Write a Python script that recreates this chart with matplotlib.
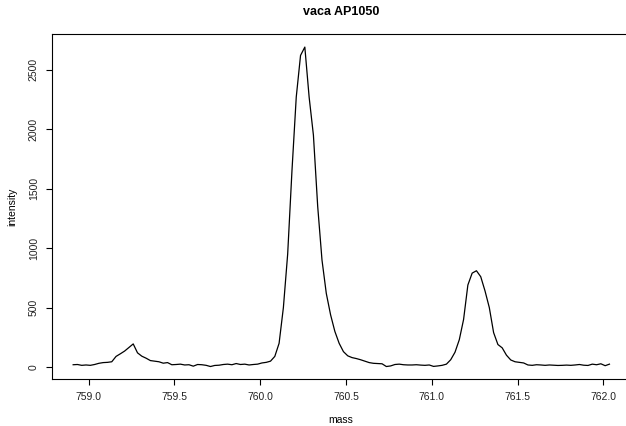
import matplotlib
matplotlib.use("Agg")
import matplotlib.pyplot as plt

plt.rcParams["font.family"] = ["Liberation Sans", "DejaVu Sans"]

# spectrum around m/z 760, one reading every 0.025 units
mass = [
    758.910, 758.935, 758.960, 758.985, 759.010, 759.035, 759.060, 759.085, 759.110, 759.135,
    759.160, 759.185, 759.210, 759.235, 759.260, 759.285, 759.310, 759.335, 759.360, 759.385,
    759.410, 759.435, 759.460, 759.485, 759.510, 759.535, 759.560, 759.585, 759.610, 759.635,
    759.660, 759.685, 759.710, 759.735, 759.760, 759.785, 759.810, 759.835, 759.860, 759.885,
    759.910, 759.935, 759.960, 759.985, 760.010, 760.035, 760.060, 760.085, 760.110, 760.135,
    760.160, 760.185, 760.210, 760.235, 760.260, 760.285, 760.310, 760.335, 760.360, 760.385,
    760.410, 760.435, 760.460, 760.485, 760.510, 760.535, 760.560, 760.585, 760.610, 760.635,
    760.660, 760.685, 760.710, 760.735, 760.760, 760.785, 760.810, 760.835, 760.860, 760.885,
    760.910, 760.935, 760.960, 760.985, 761.010, 761.035, 761.060, 761.085, 761.110, 761.135,
    761.160, 761.185, 761.210, 761.235, 761.260, 761.285, 761.310, 761.335, 761.360, 761.385,
    761.410, 761.435, 761.460, 761.485, 761.510, 761.535, 761.560, 761.585, 761.610, 761.635,
    761.660, 761.685, 761.710, 761.735, 761.760, 761.785, 761.810, 761.835, 761.860, 761.885,
    761.910, 761.935, 761.960, 761.985, 762.010, 762.035,
]
intensity = [
    20, 22, 15, 18, 15, 22, 32, 38, 40, 45,
    90, 112, 135, 165, 195, 120, 92, 75, 55, 50,
    45, 33, 38, 20, 22, 25, 18, 20, 8, 22,
    20, 15, 5, 14, 16, 22, 25, 20, 30, 22,
    25, 18, 22, 25, 35, 40, 50, 90, 200, 500,
    950, 1650, 2270, 2620, 2690, 2270, 1950, 1350, 900, 620,
    440, 300, 200, 130, 95, 80, 72, 62, 50, 38,
    32, 30, 28, 5, 10, 22, 25, 20, 18, 18,
    20, 17, 15, 18, 6, 10, 15, 25, 62, 125,
    230, 400, 690, 790, 810, 760, 640, 500, 290, 190,
    162, 100, 60, 45, 40, 35, 18, 15, 20, 18,
    15, 18, 16, 14, 15, 17, 15, 18, 22, 16,
    14, 25, 20, 28, 12, 25,
]
x_ticks = [759.0, 759.5, 760.0, 760.5, 761.0, 761.5, 762.0]
y_ticks = [0, 500, 1000, 1500, 2000, 2500]

W, H = 626, 426
fig = plt.figure(figsize=(W / 100, H / 100), dpi=100)

# plot box in pixels: left 51.7, right 630.9 (past the edge), top 34.3, bottom 379.3
ax = fig.add_axes([51.7 / W, (H - 379.3) / H, (630.9 - 51.7) / W, (379.3 - 34.3) / H])
ax.plot(mass, intensity, color="black", lw=0.9)

# 4% padding on both axes
xr = max(mass) - min(mass)
yr = max(intensity) - min(intensity)
ax.set_xlim(min(mass) - 0.04 * xr, max(mass) + 0.04 * xr)
ax.set_ylim(min(intensity) - 0.04 * yr, max(intensity) + 0.04 * yr)

ax.set_xticks(x_ticks)
ax.set_xticklabels([f"{t:.1f}" for t in x_ticks])
ax.set_yticks(y_ticks)
ax.set_yticklabels([str(t) for t in y_ticks], rotation=90, va="center")
ax.tick_params(direction="out", length=4.2, width=0.8, pad=5,
               labelsize=7.5, colors="black", labelcolor="#222222")
for s in ax.spines.values():
    s.set_linewidth(0.8)
    s.set_color("black")

fig.text(341 / W, 1 - 12 / H, "vaca AP1050", ha="center", va="center",
         fontsize=9, fontweight="bold")
fig.text(341 / W, 1 - 420 / H, "mass", ha="center", va="center", fontsize=7.5)
fig.text(12 / W, 1 - 207 / H, "intensity", ha="center", va="center",
         fontsize=7.5, rotation=90)

fig.savefig("out.png", dpi=100)
